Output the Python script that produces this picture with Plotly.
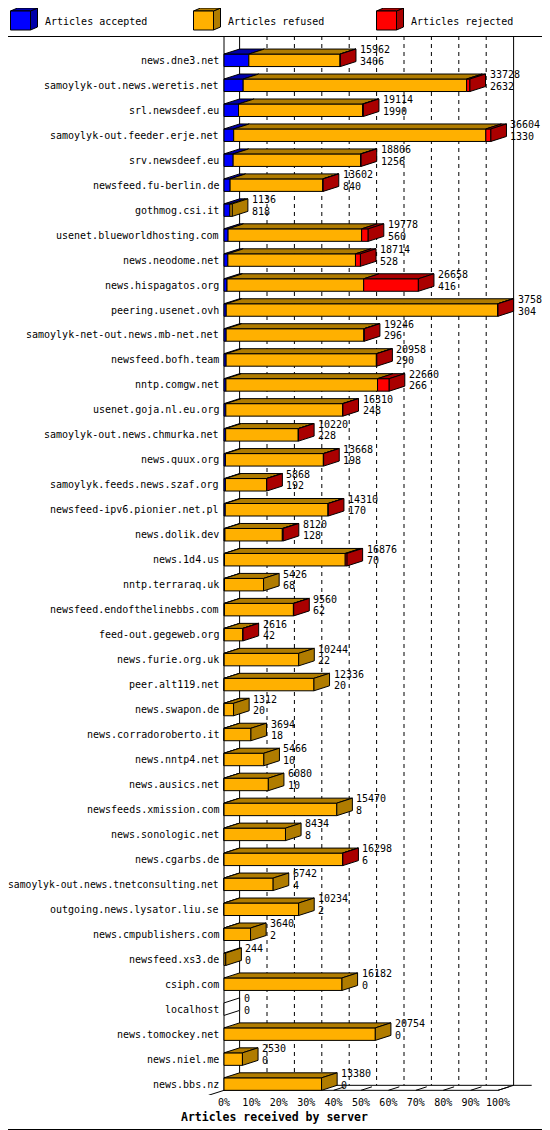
import plotly.graph_objects as go

# Articles received by server (innreport style 3D stacked bars)
servers = [
    "news.dne3.net", "samoylyk-out.news.weretis.net", "srl.newsdeef.eu",
    "samoylyk-out.feeder.erje.net", "srv.newsdeef.eu", "newsfeed.fu-berlin.de",
    "gothmog.csi.it", "usenet.blueworldhosting.com", "news.neodome.net",
    "news.hispagatos.org", "peering.usenet.ovh", "samoylyk-net-out.news.mb-net.net",
    "newsfeed.bofh.team", "nntp.comgw.net", "usenet.goja.nl.eu.org",
    "samoylyk-out.news.chmurka.net", "news.quux.org", "samoylyk.feeds.news.szaf.org",
    "newsfeed-ipv6.pionier.net.pl", "news.dolik.dev", "news.1d4.us",
    "nntp.terraraq.uk", "newsfeed.endofthelinebbs.com", "feed-out.gegeweb.org",
    "news.furie.org.uk", "peer.alt119.net", "news.swapon.de",
    "news.corradoroberto.it", "news.nntp4.net", "news.ausics.net",
    "newsfeeds.xmission.com", "news.sonologic.net", "news.cgarbs.de",
    "samoylyk-out.news.tnetconsulting.net", "outgoing.news.lysator.liu.se",
    "news.cmpublishers.com", "newsfeed.xs3.de", "csiph.com", "localhost",
    "news.tomockey.net", "news.niel.me", "news.bbs.nz",
]
offered = [
    15962, 33728, 19114, 36604, 18806, 13602, 1136, 19778, 18714, 26658,
    37582, 19246, 20958, 22660, 16310, 10220, 13668, 5868, 14310, 8120,
    16876, 5426, 9560, 2616, 10244, 12336, 1312, 3694, 5466, 6080,
    15470, 8434, 16298, 6742, 10234, 3640, 244, 16182, 0, 20754,
    2530, 13380,
]
accepted = [
    3406, 2632, 1990, 1330, 1256, 840, 818, 560, 528, 416,
    304, 296, 290, 266, 248, 228, 198, 192, 170, 128,
    70, 68, 62, 42, 22, 20, 20, 18, 10, 10,
    8, 8, 6, 4, 2, 2, 0, 0, 0, 0,
    0, 0,
]
# estimated from the red part of each bar
rejected = [
    40, 450, 100, 690, 80, 50, 0, 900, 680, 7500,
    30, 60, 60, 1600, 40, 40, 40, 30, 40, 120,
    250, 0, 40, 30, 0, 0, 0, 0, 0, 0,
    0, 0, 40, 0, 0, 0, 0, 0, 0, 0,
    0, 0,
]
refused = [o - a - r for o, a, r in zip(offered, accepted, rejected)]

tick_vals = [0, 10, 20, 30, 40, 50, 60, 70, 80, 90, 100]
tick_text = [f"{t}%" for t in tick_vals]

FRONT = {"acc": "#0000FF", "ref": "#FFB000", "rej": "#FF0000"}
DARK = {"acc": "#0000AA", "ref": "#B07C00", "rej": "#AA0000"}
LEG_NAMES = {"acc": "Articles accepted", "ref": "Articles refused", "rej": "Articles rejected"}

FONT = "DejaVu Sans Mono"

# the page body has an 8px margin, so the figure is drawn 8px in
OFF = 8
W, H = 550 - OFF, 1130 - OFF
ML, MR, MT, MB = 200 - OFF, 2, 36 - OFF, 35
PW, PH = W - ML - MR, H - MT - MB

# geometry in window pixels
PX_PER_PCT = 2.74
X0_PX = 224
ROW_PX = 24.97
ROW0_PX = 60.3
DX = 15.6 / PX_PER_PCT          # depth in % units
DY = -5.0 / ROW_PX              # depth in row units (up = negative)
HH = 6.25 / ROW_PX              # half height of front face

x_min = (ML + OFF - X0_PX) / PX_PER_PCT
x_max = (ML + OFF + PW - X0_PX) / PX_PER_PCT
y_top = (MT + OFF - ROW0_PX) / ROW_PX
y_bot = (MT + OFF + PH - ROW0_PX) / ROW_PX

vmax = max(offered)
n = len(servers)


def px(x):
    return (x - OFF - ML) / PW


def py(y):
    return (H - MB - (y - OFF)) / PH


fig = go.Figure()

# back wall / grid
grid_x, grid_y = [], []
floor_back = n - 1 + HH + DY
for k in range(1, 10):
    grid_x += [10 * k + DX, 10 * k + DX, None]
    grid_y += [y_top, floor_back, None]
fig.add_trace(go.Scatter(x=grid_x, y=grid_y, mode="lines", hoverinfo="skip",
                         line=dict(color="black", width=1, dash="4px,4px"), showlegend=False))

floor_front = n - 1 + HH
solid_x = [0, 0, None, DX, DX, None, 100 + DX, 100 + DX, None,
           -DX, DX, None, 0, 100, None, 100, 100 + DX, None, DX, 112.3]
solid_y = [y_top, floor_front, None, y_top, floor_back, None, y_top, floor_back, None,
           floor_front - DY, floor_back, None, floor_front, floor_front, None,
           floor_front, floor_back, None, floor_back, floor_back]
for t in tick_vals:
    solid_x += [None, t, t + 0.7 * DX]
    solid_y += [None, floor_front, floor_front + 0.7 * DY]
fig.add_trace(go.Scatter(x=solid_x, y=solid_y, mode="lines", hoverinfo="skip",
                         line=dict(color="black", width=1), showlegend=False))

# build the 3D bar polygons
front = {k: ([], []) for k in FRONT}
top = {k: ([], []) for k in FRONT}
side = {k: ([], []) for k in FRONT}
empty = ([], [])


def add_poly(store, xs, ys):
    store[0].extend(xs + [xs[0], None])
    store[1].extend(ys + [ys[0], None])


for i in range(n):
    yt, yb = i - HH, i + HH
    segs = [("acc", accepted[i]), ("ref", refused[i]), ("rej", rejected[i])]
    x0 = 0.0
    last = None
    for key, v in segs:
        if v <= 0:
            continue
        x1 = x0 + v / vmax * 100
        add_poly(front[key], [x0, x1, x1, x0], [yb, yb, yt, yt])
        add_poly(top[key], [x0, x1, x1 + DX, x0 + DX], [yt, yt, yt + DY, yt + DY])
        x0 = x1
        last = key
    if last is None:
        add_poly(empty, [0, 0, DX, DX], [yb, yt, yt + DY, yb + DY])
    else:
        add_poly(side[last], [x0, x0, x0 + DX, x0 + DX], [yb, yt, yt + DY, yb + DY])

fig.add_trace(go.Scatter(x=empty[0], y=empty[1], mode="lines", fill="toself",
                         fillcolor="white", line=dict(color="black", width=1),
                         hoverinfo="skip", showlegend=False))
for key in FRONT:
    fig.add_trace(go.Scatter(x=front[key][0], y=front[key][1], mode="lines", fill="toself",
                             fillcolor=FRONT[key], line=dict(color="black", width=1),
                             name=LEG_NAMES[key], hoverinfo="skip", showlegend=False))
    fig.add_trace(go.Scatter(x=top[key][0], y=top[key][1], mode="lines", fill="toself",
                             fillcolor=DARK[key], line=dict(color="black", width=1),
                             hoverinfo="skip", showlegend=False))
    fig.add_trace(go.Scatter(x=side[key][0], y=side[key][1], mode="lines", fill="toself",
                             fillcolor=DARK[key], line=dict(color="black", width=1),
                             hoverinfo="skip", showlegend=False))

annotations = []
for i in range(n):
    # very long names would run into the page margin, shrink them a touch
    size = min(10, (221 - 10) / (len(servers[i]) * 0.602))
    annotations.append(dict(x=0, y=i, xref="x", yref="y", text=servers[i], showarrow=False,
                            xanchor="right", yanchor="middle", xshift=-3,
                            font=dict(family=FONT, size=size, color="black")))
    xe = offered[i] / vmax * 100 + DX
    annotations.append(dict(x=xe, y=i - 0.42, xref="x", yref="y", text=str(offered[i]),
                            showarrow=False, xanchor="left", yanchor="middle", xshift=2,
                            font=dict(family=FONT, size=10, color="black")))
    annotations.append(dict(x=xe, y=i + 0.04, xref="x", yref="y", text=str(accepted[i]),
                            showarrow=False, xanchor="left", yanchor="middle", xshift=2,
                            font=dict(family=FONT, size=10, color="black")))

# legend (drawn like the original cubes)
shapes = []
leg_x = {"acc": 10.5, "ref": 193.5, "rej": 376.5}
for key, lx in leg_x.items():
    fx0, fx1, fy0, fy1 = lx, lx + 20, 11, 30
    ox, oy = 7, -3
    shapes.append(dict(type="path", xref="paper", yref="paper",
                       path=f"M{px(fx1)},{py(fy0)} L{px(fx1)},{py(fy1)} L{px(fx1 + ox)},{py(fy1 + oy)} "
                            f"L{px(fx1 + ox)},{py(fy0 + oy)} Z",
                       fillcolor=DARK[key], line=dict(color="black", width=1)))
    shapes.append(dict(type="path", xref="paper", yref="paper",
                       path=f"M{px(fx0)},{py(fy0)} L{px(fx1)},{py(fy0)} L{px(fx1 + ox)},{py(fy0 + oy)} "
                            f"L{px(fx0 + ox)},{py(fy0 + oy)} Z",
                       fillcolor=DARK[key], line=dict(color="black", width=1)))
    shapes.append(dict(type="rect", xref="paper", yref="paper",
                       x0=px(fx0), x1=px(fx1), y0=py(fy1), y1=py(fy0),
                       fillcolor=FRONT[key], line=dict(color="black", width=1)))
    annotations.append(dict(x=px(lx + 32.5), y=py(21), xref="paper", yref="paper",
                            text=LEG_NAMES[key], showarrow=False, xanchor="left",
                            yanchor="middle", font=dict(family=FONT, size=10, color="black")))

shapes.append(dict(type="line", xref="paper", yref="paper", x0=px(0), x1=px(550),
                   y0=py(36.5), y1=py(36.5), line=dict(color="black", width=1)))
shapes.append(dict(type="rect", xref="paper", yref="paper", x0=px(0.5), x1=px(549.5),
                   y0=py(1129.5), y1=py(0.5), line=dict(color="black", width=1)))

annotations.append(dict(x=px(179), y=py(1117), xref="paper", yref="paper",
                        text="<b>Articles received by server</b>", showarrow=False,
                        xanchor="left", yanchor="middle",
                        font=dict(family=FONT, size=11.5, color="black")))

fig.update_layout(
    width=W, height=H,
    margin=dict(l=ML, r=MR, t=MT, b=MB, pad=0),
    paper_bgcolor="white", plot_bgcolor="white",
    showlegend=False,
    annotations=annotations,
    shapes=shapes,
    font=dict(family=FONT, size=10, color="black"),
)
fig.update_xaxes(range=[x_min, x_max], showgrid=False, zeroline=False, showline=False,
                 tickvals=tick_vals, ticktext=tick_text, ticks="", ticklen=0,
                 tickfont=dict(family=FONT, size=10, color="black"), fixedrange=True)
fig.update_yaxes(range=[y_bot, y_top], showgrid=False, zeroline=False, showline=False,
                 showticklabels=False, ticks="", fixedrange=True)

fig.write_html("out.html")
